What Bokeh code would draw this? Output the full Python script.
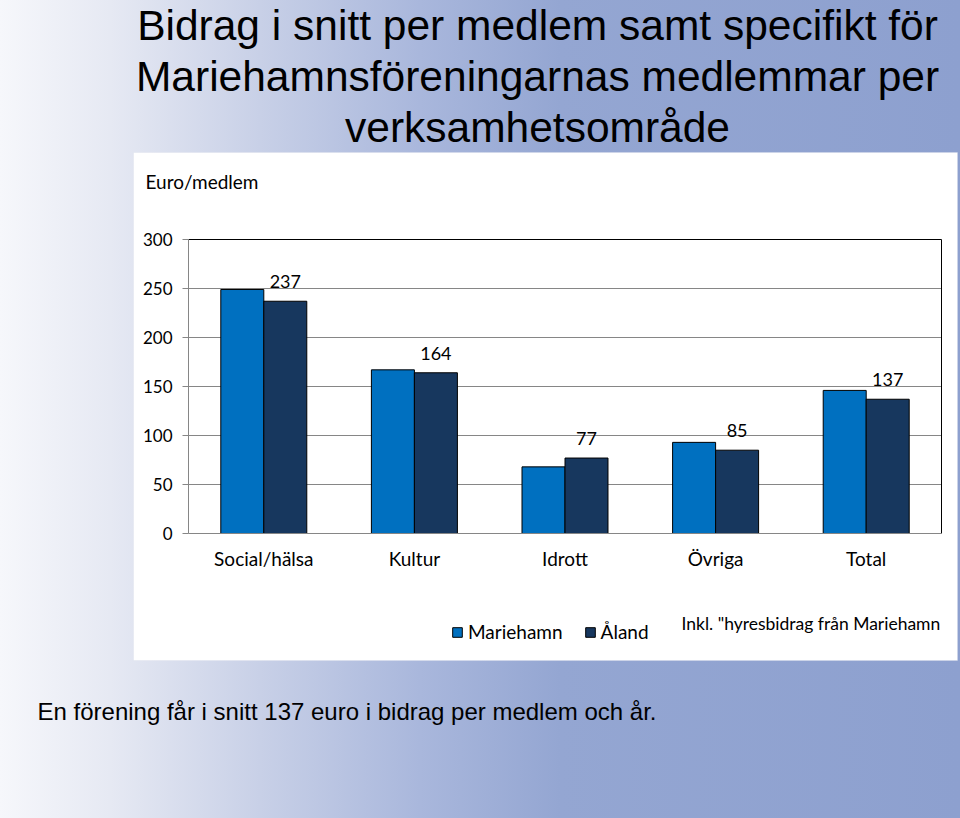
from bokeh.plotting import figure
from bokeh.models import (ColumnDataSource, Label, LabelSet, Legend, LegendItem,
                          FixedTicker, Range1d, LinearAxis, BoxAnnotation)
from bokeh.transform import dodge
from bokeh.core.properties import value
from bokeh.embed import file_html
from bokeh.resources import INLINE

# ---- data ----
categories = ["Social/hälsa", "Kultur", "Idrott", "Övriga", "Total"]
mariehamn = [249, 167, 68, 93, 146]
aland = [237, 164, 77, 85, 137]
series_names = ["Mariehamn", "Åland"]
y_ticks = [0, 50, 100, 150, 200, 250, 300]
title_lines = ["Bidrag i snitt per medlem samt specifikt för",
               "Mariehamnsföreningarnas medlemmar per",
               "verksamhetsområde"]
y_axis_title = "Euro/medlem"
footnote = 'Inkl. "hyresbidrag från Mariehamn'
conclusion = "En förening får i snitt 137 euro i bidrag per medlem och år."

# ---- layout constants (pixels) ----
W, H = 960, 818
PL, PR, PT, PB = 188, 941, 239, 533   # plot area edges in the page
n = len(categories)
ymax = y_ticks[-1]
ux = (PR - PL) / n
uy = (PB - PT) / ymax

x_centers = [i + 0.5 for i in range(n)]
src = ColumnDataSource(dict(xc=x_centers, m=mariehamn, a=aland,
                            a_lbl=[str(v) for v in aland]))

bg = ("linear-gradient(90deg, #f6f7fb 0px, #e6e9f3 110px, #c8d0e7 260px, "
      "#a9b7dc 420px, #94a6d2 560px, #8da0cf 960px)")

p = figure(width=W, height=H,
           x_range=Range1d(-PL / ux, n + (W - PR) / ux),
           y_range=Range1d(-(H - PB) / uy, ymax + PT / uy),
           x_axis_location=None, y_axis_location=None,
           output_backend="svg", toolbar_location=None,
           min_border=0, styles={"background": bg})
p.title.visible = False
p.border_fill_color = None
p.background_fill_color = None
p.outline_line_color = None
p.xgrid.grid_line_color = None
p.ygrid.grid_line_color = None

# white chart box
p.add_layout(BoxAnnotation(left=133, right=957, top=H - 152, bottom=H - 660,
                           left_units="screen", right_units="screen",
                           top_units="screen", bottom_units="screen",
                           fill_color="white", fill_alpha=1.0,
                           line_color="#d8dce8", line_width=1, level="underlay"))

# gridlines and plot-area border
grid_vals = y_ticks[1:-1]
p.segment(x0=[0] * len(grid_vals), x1=[n] * len(grid_vals), y0=grid_vals, y1=grid_vals,
          line_color="#868686", line_width=1)
p.segment(x0=[0, n], x1=[n, n], y0=[ymax, 0], y1=[ymax, ymax],
          line_color="#000000", line_width=1)

bw = 0.2855
r1 = p.vbar(x=dodge("xc", -bw / 2), top="m", width=bw, source=src,
            fill_color="#0070C0", line_color="black", line_width=1)
r2 = p.vbar(x=dodge("xc", bw / 2), top="a", width=bw, source=src,
            fill_color="#17375E", line_color="black", line_width=1)

labels = LabelSet(x=dodge("xc", bw / 2), y="a", text="a_lbl", source=src,
                  text_align="center", text_baseline="alphabetic", y_offset=13,
                  text_font=value("Lato"), text_font_size="18px", text_color="#000000")
p.add_layout(labels)

# axes
yaxis = LinearAxis(fixed_location=0, ticker=FixedTicker(ticks=y_ticks), bounds=(0, ymax))
yaxis.axis_line_color = "#868686"
yaxis.major_tick_line_color = "#868686"
yaxis.major_tick_in = 0
yaxis.major_tick_out = 6
yaxis.minor_tick_line_color = None
yaxis.major_label_text_font = "Lato"
yaxis.major_label_text_font_size = "17px"
yaxis.major_label_text_color = "#000000"
yaxis.major_label_standoff = 10
p.add_layout(yaxis, "left")

xaxis = LinearAxis(fixed_location=0, ticker=FixedTicker(ticks=x_centers), bounds=(0, n),
                   major_label_overrides={xc: c for xc, c in zip(x_centers, categories)})
xaxis.axis_line_color = "#868686"
xaxis.major_tick_line_color = None
xaxis.major_tick_in = 0
xaxis.major_tick_out = 0
xaxis.minor_tick_line_color = None
xaxis.major_label_text_font = "Lato"
xaxis.major_label_text_font_size = "19px"
xaxis.major_label_text_color = "#000000"
xaxis.major_label_standoff = 13
p.add_layout(xaxis, "below")

legend = Legend(items=[LegendItem(label=series_names[0], renderers=[r1]),
                       LegendItem(label=series_names[1], renderers=[r2])],
                orientation="horizontal", location=(451, H - 643),
                padding=0, margin=0, spacing=21, label_standoff=5,
                glyph_width=12, glyph_height=12,
                border_line_color=None, background_fill_alpha=0,
                label_text_font="Lato", label_text_font_size="19px",
                label_text_color="#000000")
p.add_layout(legend)

# texts (screen units: x from left, y from bottom)
for line, base in zip(title_lines, [25, 76, 127]):
    p.add_layout(Label(x=537, y=H - base, x_units="screen", y_units="screen", text=line,
                       text_align="center", text_baseline="alphabetic",
                       text_font="Liberation Sans", text_font_size="42.5px",
                       text_color="#000000"))

p.add_layout(Label(x=145, y=H - 181, x_units="screen", y_units="screen", text=y_axis_title,
                   text_align="left", text_baseline="alphabetic",
                   text_font="Lato", text_font_size="19px", text_color="#000000"))
p.add_layout(Label(x=681, y=H - 623, x_units="screen", y_units="screen", text=footnote,
                   text_align="left", text_baseline="alphabetic",
                   text_font="Lato", text_font_size="17.5px", text_color="#000000"))
p.add_layout(Label(x=37, y=H - 711, x_units="screen", y_units="screen", text=conclusion,
                   text_align="left", text_baseline="alphabetic",
                   text_font="Liberation Sans", text_font_size="24px", text_color="#000000"))

open("out.html", "w").write(file_html(p, INLINE))
